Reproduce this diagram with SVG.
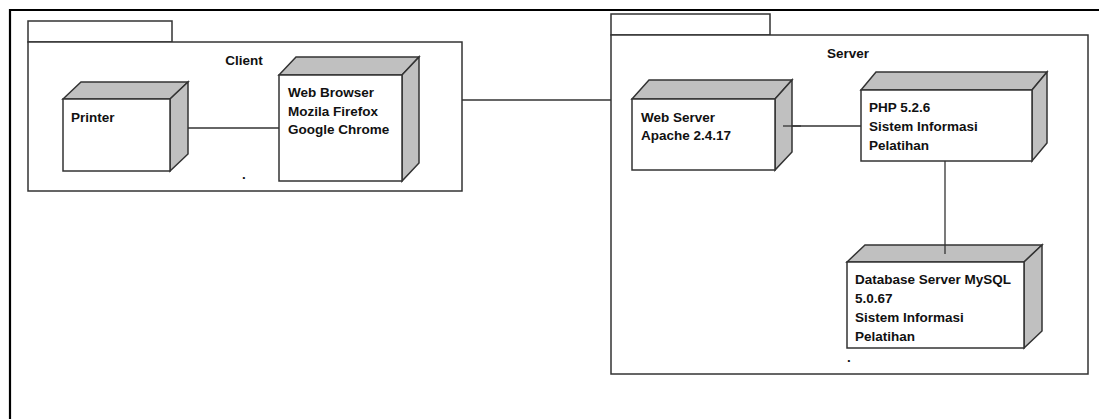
<svg xmlns="http://www.w3.org/2000/svg" width="1099" height="419" viewBox="0 0 1099 419">
<style>
.pkg{fill:#fff;stroke:#333;stroke-width:1.5}
.front{fill:#fff;stroke:#333;stroke-width:1.5}
.side{fill:#c0c0c0;stroke:#333;stroke-width:1.5;stroke-linejoin:miter}
.conn{stroke:#333;stroke-width:1.3;fill:none}
text{font-family:"Liberation Sans",Arial,sans-serif;font-weight:bold;font-size:13.5px;fill:#111}
.c{text-anchor:middle}
</style>
<rect width="1099" height="419" fill="#fff"/>
<path d="M1099 10 H10 V419" fill="none" stroke="#000" stroke-width="2.2"/>

<g id="client">
<rect class="pkg" x="28" y="21" width="144" height="21"/>
<rect class="pkg" x="28" y="42" width="434" height="149"/>
<text class="c" x="244" y="65">Client</text>
<text x="242" y="179">.</text>
</g>

<g id="server">
<rect class="pkg" x="611" y="14" width="159" height="21"/>
<rect class="pkg" x="611" y="35" width="477" height="339"/>
<text class="c" x="848" y="58">Server</text>
<text x="847" y="362">.</text>
</g>

<g id="connectors">
<line class="conn" x1="170" y1="128" x2="279" y2="128"/>
<line class="conn" x1="462" y1="100" x2="611" y2="100"/>
<line class="conn" x1="783" y1="126" x2="861" y2="126"/>
<line class="conn" x1="945" y1="161" x2="945" y2="254"/>
</g>

<g id="printer">
<polygon class="side" points="63,99 81,82 188,82 170,99"/>
<polygon class="side" points="170,99 188,82 188,154 170,171"/>
<rect class="front" x="63" y="99" width="107" height="72"/>
<text x="71" y="122">Printer</text>
</g>

<g id="webbrowser">
<polygon class="side" points="279,75 296,57 419,57 402,75"/>
<polygon class="side" points="402,75 419,57 419,163 402,181"/>
<rect class="front" x="279" y="75" width="123" height="106"/>
<text x="288" y="97">Web Browser</text>
<text x="288" y="116">Mozila Firefox</text>
<text x="288" y="134">Google Chrome</text>
</g>

<g id="webserver">
<polygon class="side" points="632,99 649,80 792,80 775,99"/>
<polygon class="side" points="775,99 792,80 792,152 775,170"/>
<rect class="front" x="632" y="99" width="143" height="71"/>
<line class="conn" x1="783" y1="126" x2="801" y2="126"/>
<text x="641" y="122">Web Server</text>
<text x="641" y="140">Apache 2.4.17</text>
</g>

<g id="php">
<polygon class="side" points="861,90 876,72 1047,72 1032,90"/>
<polygon class="side" points="1032,90 1047,72 1047,143 1032,161"/>
<rect class="front" x="861" y="90" width="171" height="71"/>
<text x="869" y="112">PHP 5.2.6</text>
<text x="869" y="131">Sistem Informasi</text>
<text x="869" y="150">Pelatihan</text>
</g>

<g id="database">
<polygon class="side" points="847,262 865,245 1042,245 1024,262"/>
<polygon class="side" points="1024,262 1042,245 1042,331 1024,348"/>
<rect class="front" x="847" y="262" width="177" height="86"/>
<line class="conn" x1="945" y1="245" x2="945" y2="254"/>
<text x="855" y="284">Database Server MySQL</text>
<text x="855" y="303">5.0.67</text>
<text x="855" y="322">Sistem Informasi</text>
<text x="855" y="341">Pelatihan</text>
</g>
</svg>
